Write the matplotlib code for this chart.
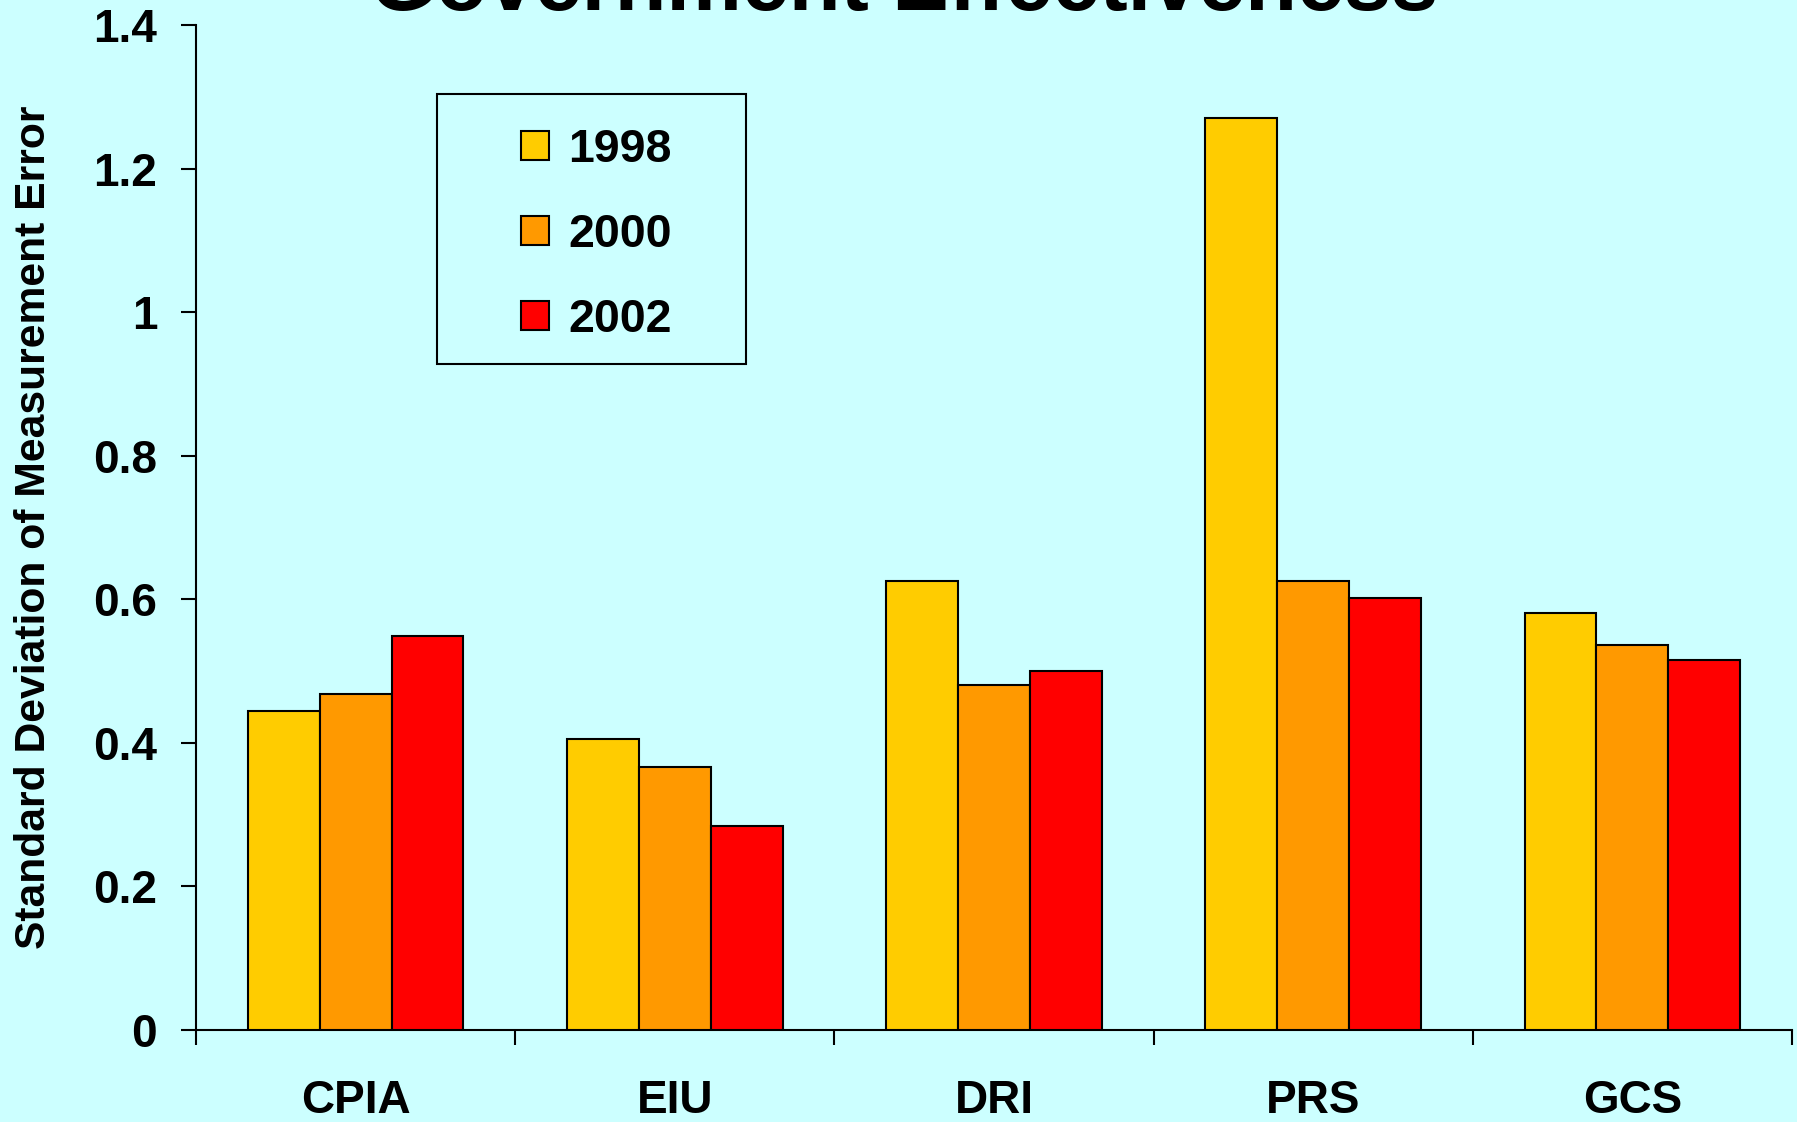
import numpy as np
import matplotlib
matplotlib.use("Agg")
import matplotlib.pyplot as plt
from matplotlib.patches import Rectangle

plt.rcParams["font.family"] = ["Liberation Sans", "DejaVu Sans"]
plt.rcParams["font.weight"] = "bold"

# Measurement error by source and year
sources = ["CPIA", "EIU", "DRI", "PRS", "GCS"]
years = ["1998", "2000", "2002"]
err_1998 = [0.444, 0.405, 0.626, 1.271, 0.581]
err_2000 = [0.468, 0.366, 0.481, 0.626, 0.536]
err_2002 = [0.549, 0.284, 0.500, 0.602, 0.516]
yticks = [0, 0.2, 0.4, 0.6, 0.8, 1.0, 1.2, 1.4]
ytick_labels = ["0", "0.2", "0.4", "0.6", "0.8", "1", "1.2", "1.4"]

bg = "#CCFFFF"
colors = ["#FFCC00", "#FF9900", "#FF0000"]

fig = plt.figure(figsize=(17.97, 11.22), dpi=100, facecolor=bg)
ax = fig.add_axes([0.1091, 0.0820, 0.8881, 0.8957])
ax.set_facecolor(bg)

x = np.arange(len(sources))
width = 0.225
series = [err_1998, err_2000, err_2002]
for i, (vals, col, yr) in enumerate(zip(series, colors, years)):
    ax.bar(x + (i - 1) * width, vals, width, color=col, edgecolor="black",
           linewidth=1.5, label=yr, zorder=3)

ax.set_xlim(-0.5, len(sources) - 0.5)
ax.set_ylim(0, 1.4)
ax.set_yticks(yticks)
ax.set_yticklabels(ytick_labels)
ax.set_xticks(x)
ax.set_xticklabels(sources)
ax.set_xticks(np.arange(len(sources) + 1) - 0.5, minor=True)

ax.tick_params(axis="y", length=11, width=1.5, pad=17, labelsize=33)
ax.tick_params(axis="x", which="major", length=0, pad=35, labelsize=33)
ax.tick_params(axis="x", which="minor", length=11, width=1.5, direction="out")

for side in ["top", "right"]:
    ax.spines[side].set_visible(False)
for side in ["left", "bottom"]:
    ax.spines[side].set_linewidth(1.5)

ax.set_ylabel("Standard Deviation of Measurement Error", fontsize=30.7,
              fontweight="bold")
ax.yaxis.set_label_coords(-0.089, 0.5)

fig.text(0.503, 0.991, "Government Effectiveness", fontsize=61,
         fontweight="bold", ha="center", va="baseline")

# boxed legend
box_l, box_r = 437 / 1797, 746 / 1797
box_t, box_b = 1 - 94 / 1122, 1 - 364 / 1122
fig.patches.append(Rectangle((box_l, box_b), box_r - box_l, box_t - box_b,
                             transform=fig.transFigure, facecolor="none",
                             edgecolor="black", linewidth=1.5))
ax.legend(loc="center",
          bbox_to_anchor=((box_l + box_r) / 2 + 5 / 1797,
                          (box_t + box_b) / 2 - 6 / 1122),
          bbox_transform=fig.transFigure, frameon=False, fontsize=33.5,
          handlelength=0.6, handleheight=0.6, handletextpad=0.4,
          labelspacing=0.88)

fig.savefig("out.png", dpi=100, facecolor=bg)
